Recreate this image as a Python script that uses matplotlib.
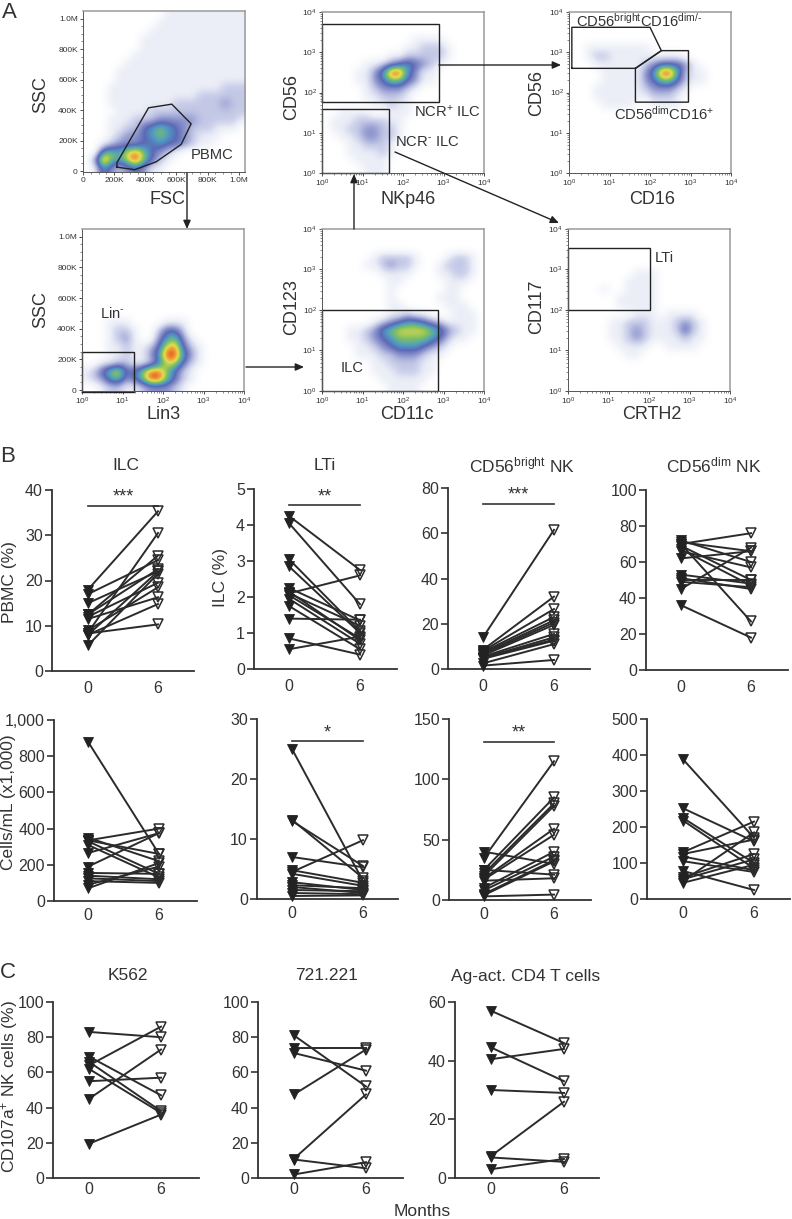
import matplotlib
matplotlib.use("Agg")
import matplotlib.pyplot as plt
from matplotlib.colors import LinearSegmentedColormap
from matplotlib.ticker import FixedLocator
import numpy as np

plt.rcParams["font.family"] = ["Liberation Sans", "DejaVu Sans"]
plt.rcParams["mathtext.fontset"] = "custom"
plt.rcParams["mathtext.rm"] = "Liberation Sans"
plt.rcParams["mathtext.default"] = "rm"

W, H = 792, 1219
INK = "#333333"

# paired values, month 0 and month 6
ilc_pbmc_0 = [18, 17, 15, 12.5, 12.5, 12, 11.5, 9, 8.5, 8, 8, 8.3, 5.7]
ilc_pbmc_6 = [35.3, 24.5, 22, 25.5, 22.5, 19.5, 16.3, 18.5, 30.5, 22, 14.8, 10.3, 21.5]
lti_ilc_0 = [4.25, 4.05, 3.05, 2.85, 2.25, 2.15, 2.1, 2.1, 2.05, 1.95, 1.75, 1.4, 0.85, 0.55]
lti_ilc_6 = [2.75, 1.8, 1.05, 1.0, 1.35, 0.8, 2.6, 1.2, 0.85, 0.7, 0.55, 1.37, 0.4, 0.9]
bright_pct_0 = [14, 8.5, 8, 7.5, 7, 6.5, 6, 5.5, 5, 5, 4.5, 2.5, 1.5]
bright_pct_6 = [61.5, 32, 26.5, 23, 21.5, 20.5, 19.5, 15.5, 14, 13, 12.5, 11, 4]
dim_pct_0 = [70, 72, 71, 69, 70, 67, 66, 62, 53, 51, 50, 49, 45, 36]
dim_pct_6 = [76, 60, 66, 50, 27, 47, 57, 66, 48, 45, 50, 46, 68, 18]

ilc_cells_0 = [880, 350, 335, 335, 330, 310, 265, 190, 155, 140, 125, 110, 90, 70]
ilc_cells_6 = [260, 220, 400, 260, 150, 130, 375, 375, 150, 120, 110, 100, 190, 210]
lti_cells_0 = [25, 13.2, 13, 7, 4.8, 4.5, 4.2, 2.8, 2.3, 2, 1.5, 1, 0.5]
lti_cells_6 = [3, 3.5, 5.5, 5.3, 2.7, 9.8, 2.2, 1.5, 1.8, 1, 1.3, 0.8, 0.6]
bright_cells_0 = [40, 35, 25, 25, 22, 20, 18, 17, 16, 10, 8, 5, 4, 3]
bright_cells_6 = [30, 115, 85, 21, 80, 78, 59, 54, 18, 40, 36, 33, 32, 4.5]
dim_cells_0 = [388, 252, 225, 218, 130, 125, 118, 105, 78, 60, 55, 50, 45]
dim_cells_6 = [170, 160, 100, 85, 215, 165, 80, 75, 25, 125, 110, 185, 95]

k562_0 = [83, 69, 66, 64, 62, 55, 45, 19.5]
k562_6 = [80, 47, 38, 86, 37, 57, 73, 36]
b721_0 = [81, 74, 71, 47.5, 11, 10.5, 2]
b721_6 = [52, 74, 61, 73, 47.5, 5.5, 9]
cd4_0 = [57, 44.5, 40.5, 30, 7.5, 7, 3]
cd4_6 = [46, 33, 44, 29, 26, 5.5, 6.5]

# flow cytometry panels: density level per grid cell, 0 empty .. 9 peak
EMPTY = "00000000000000000000"
density_fsc = [
    "00000000001111111111",
    "00000000011111111111",
    "00000000111111111111",
    "00000001111111111111",
    "00000001111111111111",
    "00000011111111111111",
    "00000111111111111111",
    "00001111111111111111",
    "00001111111111111111",
    "00011111111111111222",
    "00011111111111222222",
    "00011111111222222322",
    "00001111222222222222",
    "00011122233333222221",
    "00011224565432221110",
    "00012334565432111000",
    "00123334454432110000",
    "00565786432100000000",
    "03965796421000000000",
    "01532343110000000000",
]
density_nkp46 = [
    EMPTY, EMPTY, EMPTY,
    "00000000000111100000",
    "00000000001122210000",
    "00000000112222210000",
    "00000112345432100000",
    "00001135995311000000",
    "00001134664311000000",
    "00000123332100000000",
    "00000112221000000000",
    "00000011211000000000",
    "00111100111000000000",
    "01112222110000000000",
    "01122332210000000000",
    "00112332210000000000",
    "00011222100000000000",
    "00011112100000000000",
    "00001111000000000000",
    "00000111000000000000",
]
density_cd16 = [
    EMPTY, EMPTY, EMPTY, EMPTY,
    "00111111110000000000",
    "00122111111111000000",
    "00011111123444310000",
    "00001111135995211000",
    "00001111134664211000",
    "00011111123332100000",
    "00011111112221000000",
    "00001111001111000000",
    EMPTY, EMPTY, EMPTY, EMPTY, EMPTY, EMPTY, EMPTY, EMPTY,
]
density_lin3 = [
    EMPTY, EMPTY, EMPTY, EMPTY, EMPTY, EMPTY, EMPTY, EMPTY, EMPTY, EMPTY, EMPTY,
    "00011100001110000000",
    "00012210024420000000",
    "00012310035631000000",
    "00011211247842100000",
    "00011211359953100000",
    "00112211247742100000",
    "12467446886421000000",
    "12356346996421000000",
    "00122112333210000000",
]
density_cd11c = [
    EMPTY, EMPTY, EMPTY,
    "00000012222100012210",
    "00000112322100122210",
    "00000001111000112210",
    "00000000110000011100",
    "00000000100000011000",
    "00000000100000111000",
    "00000000110000011100",
    "00000000112110001110",
    "00000012345543211110",
    "00011235677776532110",
    "00011234566665421100",
    "00001123455543210000",
    "00001112233321100000",
    "00000011222211000000",
    "00000011122211000000",
    "00000001111110000000",
    "00000000111100000000",
]
density_crth2 = [
    EMPTY, EMPTY, EMPTY, EMPTY, EMPTY,
    "00000000111000000000",
    "00000001111000000000",
    "00001001111000000000",
    "00000011111000000000",
    "00000011111000000000",
    "00000000111011110000",
    "00000112221112321000",
    "00000112321112421000",
    "00000112321111211000",
    "00000011110011110000",
    "00000001100000000000",
    EMPTY, EMPTY, EMPTY, EMPTY,
]

# gate outlines, closed polygons in axis units
gate_pbmc = [(218e3, 26e3), (331e3, 9e3), (470e3, 61e3), (630e3, 175e3), (694e3, 310e3),
             (570e3, 439e3), (421e3, 415e3), (218e3, 55e3)]
gate_ncr_pos = [(0, 1.76), (2.89, 1.76), (2.89, 3.69), (0, 3.69)]
gate_ncr_neg = [(0, 0), (1.66, 0), (1.66, 1.6), (0, 1.6)]
gate_bright = [(0.07, 2.6), (1.64, 2.6), (2.28, 3.04), (2.0, 3.62), (0.07, 3.62)]
gate_dim = [(1.64, 2.6), (1.64, 1.76), (2.95, 1.76), (2.95, 3.04), (2.28, 3.04)]
gate_lin = [(0, -10e3), (1.28, -10e3), (1.28, 248e3), (0, 248e3)]
gate_ilc = [(0, 0), (2.86, 0), (2.86, 2.0), (0, 2.0)]
gate_lti = [(0, 2.0), (2.02, 2.0), (2.02, 3.52), (0, 3.52)]

lin_ticks = [0, 200e3, 400e3, 600e3, 800e3, 1e6]
lin_labels = ["0", "200K", "400K", "600K", "800K", "1.0M"]
log_ticks = [0, 1, 2, 3, 4]
log_labels = ["$10^{%d}$" % t for t in log_ticks]
log_minor = [d + np.log10(m) for d in range(4) for m in range(2, 10)]

density_cmap = LinearSegmentedColormap.from_list("density", [
    "#ffffff", "#eceef7", "#c3c8e6", "#8a93cc", "#5c69b5",
    "#4f9cc4", "#7fc060", "#e3dc50", "#ef8a2f", "#d62a1e"])

fig = plt.figure(figsize=(W / 100, H / 100), dpi=100)


def px_axes(left, top, right, bottom):
    return fig.add_axes([left / W, 1 - bottom / H, (right - left) / W, (bottom - top) / H])


def flow_panel(box, rows, gates, xlab, ylab, xlab_pos, ylab_pos, lin_x=False, lin_y=False):
    left, top, right, bottom = box
    ax = px_axes(left, top, right, bottom)
    xlim = (0, 1.04e6) if lin_x else (0, 4)
    ylim = (-6e3, 1.05e6) if lin_y else (0, 4)
    grid = np.array([[int(c) for c in row] for row in rows])
    ax.imshow(grid, cmap=density_cmap, vmin=0, vmax=9, aspect="auto", interpolation="bicubic",
              extent=(xlim[0], xlim[1], ylim[0], ylim[1]), origin="upper")
    ax.set_xlim(xlim)
    ax.set_ylim(ylim)
    for gate in gates:
        pts = np.array(gate + gate[:1])
        ax.plot(pts[:, 0], pts[:, 1], color="#222222", lw=1.0, clip_on=False, solid_joinstyle="miter")
    ax.set_xticks(lin_ticks if lin_x else log_ticks)
    ax.set_xticklabels(lin_labels if lin_x else log_labels)
    ax.set_yticks(lin_ticks if lin_y else log_ticks)
    ax.set_yticklabels(lin_labels if lin_y else log_labels)
    if lin_x:
        ax.xaxis.set_minor_locator(FixedLocator(np.arange(0, 1.04e6, 50e3)))
    else:
        ax.xaxis.set_minor_locator(FixedLocator(log_minor))
    if lin_y:
        ax.yaxis.set_minor_locator(FixedLocator(np.arange(0, 1.05e6, 50e3)))
    else:
        ax.yaxis.set_minor_locator(FixedLocator(log_minor))
    ax.tick_params(which="major", length=2.5, width=0.6, pad=1.2, labelsize=6, colors=INK)
    ax.tick_params(which="minor", length=1.2, width=0.4, colors=INK)
    for side in ("top", "right"):
        ax.spines[side].set_color("#9a9a9a")
        ax.spines[side].set_linewidth(1.1)
    for side in ("left", "bottom"):
        ax.spines[side].set_color("#555555")
        ax.spines[side].set_linewidth(0.7)
    ax.set_xlabel(xlab, fontsize=13, color=INK)
    ax.set_ylabel(ylab, fontsize=13, color=INK)
    ax.xaxis.set_label_coords((xlab_pos[0] - left) / (right - left), (bottom - xlab_pos[1]) / (bottom - top))
    ax.yaxis.set_label_coords((ylab_pos[0] - left) / (right - left), (bottom - ylab_pos[1]) / (bottom - top))
    ax.xaxis.label.set_verticalalignment("center")
    ax.yaxis.label.set_verticalalignment("center")
    return ax


def pair_panel(box, month_px, before, after, yticks, ymax, title=None, title_pos=None,
               ylab=None, ylab_x=None, ylab_y=None, ytick_labels=None, sig=None, xpad=7):
    left, top, right, bottom = box
    p0, p6 = month_px
    ax = px_axes(left, top, right, bottom)
    for a, b in zip(before, after):
        ax.plot([0, 6], [a, b], color="#2b2b2b", lw=1.4, zorder=2, clip_on=False)
    ax.plot([0] * len(before), before, ls="none", marker="v", ms=7, mfc="#222222", mec="#222222",
            mew=0.6, zorder=3, clip_on=False)
    ax.plot([6] * len(after), after, ls="none", marker="v", ms=6.5, mfc="none", mec="#2b2b2b",
            mew=1.1, zorder=3, clip_on=False)
    ax.set_xlim((left - p0) / (p6 - p0) * 6, (right - p0) / (p6 - p0) * 6)
    ax.set_ylim(0, ymax)
    ax.set_xticks([0, 6])
    ax.set_yticks(yticks)
    if ytick_labels:
        ax.set_yticklabels(ytick_labels)
    ax.tick_params(axis="y", length=5, width=1.2, pad=1.5, labelsize=11.5, colors=INK)
    ax.tick_params(axis="x", length=0, pad=xpad, labelsize=11.5, colors=INK)
    for side in ("top", "right"):
        ax.spines[side].set_visible(False)
    for side in ("left", "bottom"):
        ax.spines[side].set_color(INK)
        ax.spines[side].set_linewidth(1.3)
    if title:
        ax.set_title(title, fontsize=12.5, color=INK, x=(title_pos[0] - left) / (right - left),
                     y=(bottom - title_pos[1]) / (bottom - top), va="center", pad=0)
    if ylab:
        ax.set_ylabel(ylab, fontsize=12.5, color=INK)
        yc = 0.5 if ylab_y is None else (bottom - ylab_y) / (bottom - top)
        ax.yaxis.set_label_coords((ylab_x - left) / (right - left), yc)
        ax.yaxis.label.set_verticalalignment("center")
    if sig:
        stars, level = sig
        ax.plot([0, 6], [level, level], color=INK, lw=1.2, clip_on=False)
        ax.text(3, level, stars, fontsize=13, color=INK, ha="center", va="bottom")
    return ax


# panel A
flow_panel((83, 11, 245, 172), density_fsc, [gate_pbmc], "FSC", "SSC", (167, 199), (41, 95), lin_x=True, lin_y=True)
flow_panel((322, 12, 484, 173), density_nkp46, [gate_ncr_pos, gate_ncr_neg], "NKp46", "CD56", (408, 199), (292, 97))
flow_panel((569, 12, 731, 173), density_cd16, [gate_bright, gate_dim], "CD16", "CD56", (652, 199), (537, 93))
flow_panel((82, 229, 244, 391), density_lin3, [gate_lin], "Lin3", "SSC", (164, 415), (41, 310), lin_y=True)
flow_panel((322, 229, 484, 391), density_cd11c, [gate_ilc], "CD11c", "CD123", (407, 415), (292, 307))
flow_panel((568, 229, 730, 391), density_crth2, [gate_lti], "CRTH2", "CD117", (652, 415), (537, 307))

# panel B, top row
pair_panel((52, 490, 194, 671), (88, 158), ilc_pbmc_0, ilc_pbmc_6, [0, 10, 20, 30, 40], 40,
           "ILC", (126, 465), "PBMC (%)", 9, ylab_y=582, sig=("***", 36.5))
pair_panel((254, 489, 397, 669), (289, 360), lti_ilc_0, lti_ilc_6, [0, 1, 2, 3, 4, 5], 5,
           "LTi", (325, 465), "ILC (%)", 221, ylab_y=577, sig=("**", 4.55))
pair_panel((448, 488, 590, 669), (483, 554), bright_pct_0, bright_pct_6, [0, 20, 40, 60, 80], 80,
           "CD56$^{bright}$ NK", (522, 465), sig=("***", 73))
pair_panel((646, 490, 788, 670), (681, 751), dim_pct_0, dim_pct_6, [0, 20, 40, 60, 80, 100], 100,
           "CD56$^{dim}$ NK", (714, 465))

# panel B, bottom row
pair_panel((54, 720, 197, 901), (88, 159), ilc_cells_0, ilc_cells_6, [0, 200, 400, 600, 800, 1000], 1000,
           ylab="Cells/mL (x1,000)", ylab_x=9, ylab_y=802,
           ytick_labels=["0", "200", "400", "600", "800", "1,000"], xpad=5)
pair_panel((257, 719, 398, 899), (292, 363), lti_cells_0, lti_cells_6, [0, 10, 20, 30], 30,
           sig=("*", 26.3), xpad=5)
pair_panel((449, 719, 591, 900), (484, 554), bright_cells_0, bright_cells_6, [0, 50, 100, 150], 150,
           sig=("**", 131), xpad=5)
pair_panel((647, 719, 790, 899), (683, 754), dim_cells_0, dim_cells_6, [0, 100, 200, 300, 400, 500], 500, xpad=5)

# panel C
pair_panel((53, 1002, 199, 1178), (89, 161), k562_0, k562_6, [0, 20, 40, 60, 80, 100], 100,
           "K562", (128, 976), "CD107a$^{+}$ NK cells (%)", 9, ylab_y=1087, xpad=3)
pair_panel((258, 1002, 403, 1178), (294, 366), b721_0, b721_6, [0, 20, 40, 60, 80, 100], 100,
           "721.221", (327, 976), xpad=3)
pair_panel((455, 1002, 599, 1178), (491, 564), cd4_0, cd4_6, [0, 20, 40, 60], 60,
           "Ag-act. CD4 T cells", (526, 976), xpad=3)

# overlay in picture pixels for arrows and free text
over = fig.add_axes([0, 0, 1, 1], facecolor="none")
over.set_xlim(0, W)
over.set_ylim(H, 0)
over.axis("off")

arrows = [((187, 173), (187, 229)), ((246, 367), (304, 367)), ((354, 229), (354, 174)),
          ((439, 65), (561, 65)), ((395, 152), (559, 223))]
for start, end in arrows:
    over.annotate("", xy=end, xytext=start,
                  arrowprops=dict(arrowstyle="-|>,head_width=0.22,head_length=0.5", color="#222222",
                                  lw=1.0, shrinkA=0, shrinkB=0))

panel_letters = [("A", 2, 12), ("B", 0, 457), ("C", 0, 972)]
for letter, x, y in panel_letters:
    over.text(x, y, letter, fontsize=16, color=INK, ha="left", va="center")

gate_texts = [
    ("PBMC", 212, 155, "center"),
    (r"NCR$^{+}$ ILC", 447, 112, "center"),
    (r"NCR$^{\text{-}}$ ILC", 427, 142, "center"),
    (r"CD56$^{bright}$CD16$^{\text{dim/-}}$", 576, 21, "left"),
    (r"CD56$^{dim}$CD16$^{+}$", 614, 114, "left"),
    (r"Lin$^{\text{-}}$", 100, 314, "left"),
    ("ILC", 341, 368, "left"),
    ("LTi", 655, 258, "left"),
]
for txt, x, y, ha in gate_texts:
    over.text(x, y, txt, fontsize=10.6, color=INK, ha=ha, va="center")

over.text(422, 1211, "Months", fontsize=12.5, color=INK, ha="center", va="center")

fig.savefig("out.png", dpi=100)
